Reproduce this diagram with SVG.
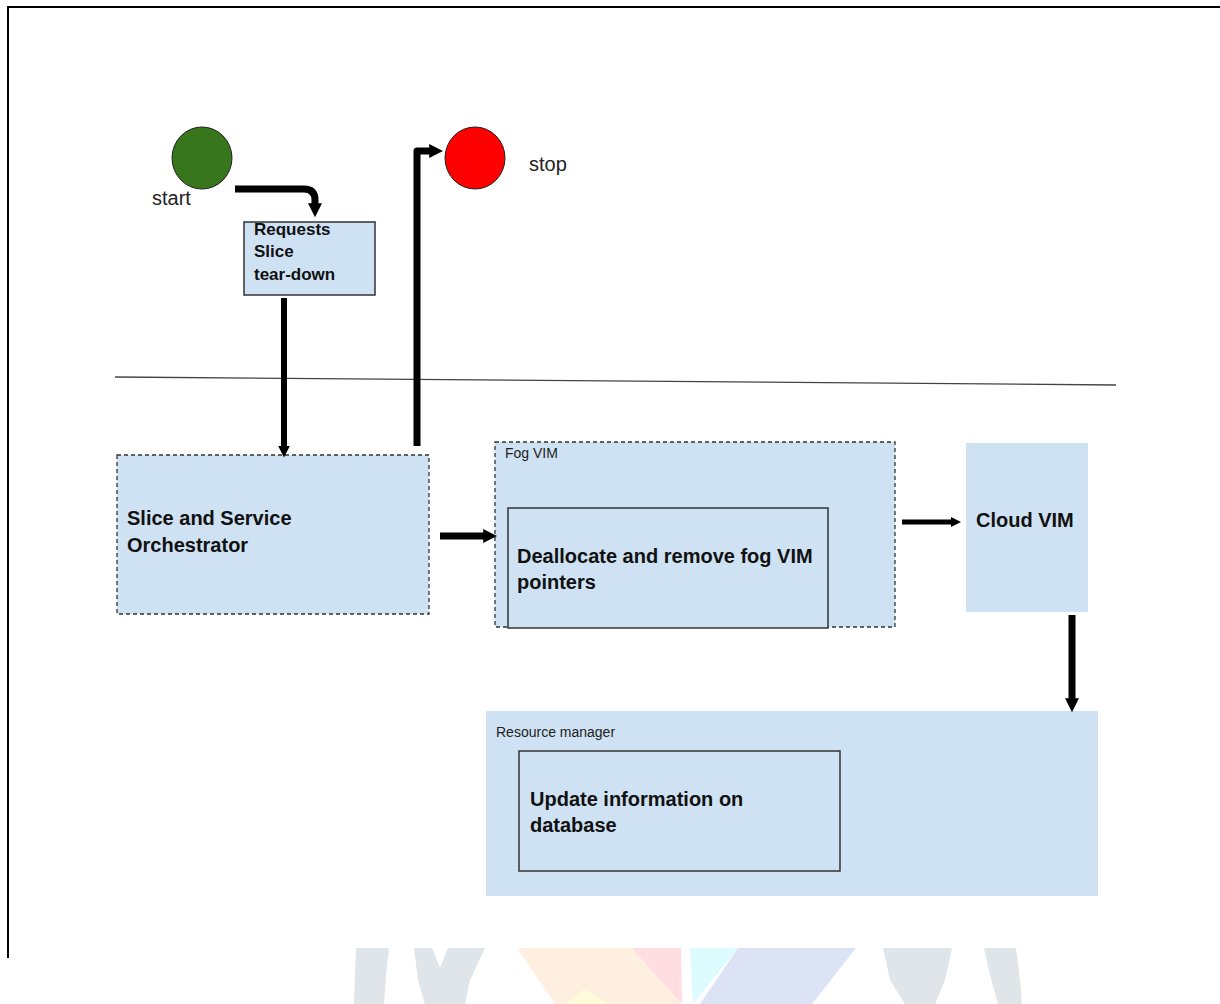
<svg xmlns="http://www.w3.org/2000/svg" width="1220" height="1004" viewBox="0 0 1220 1004">
<defs>
<style>
.box{fill:#cfe2f3}
.dash{stroke:#333;stroke-width:1.3;stroke-dasharray:4 3}
.solid{stroke:#333;stroke-width:1.5}
.big{font-family:"Liberation Sans",Arial,sans-serif;font-weight:bold;font-size:20px;fill:#111}
.mid{font-family:"Liberation Sans",Arial,sans-serif;font-weight:bold;font-size:17px;fill:#111}
.lbl{font-family:"Liberation Sans",Arial,sans-serif;font-size:14px;fill:#222}
.cap{font-family:"Liberation Sans",Arial,sans-serif;font-size:20px;fill:#222}
.conn{fill:none;stroke:#000;stroke-linejoin:round}
</style>
<marker id="ah" viewBox="0 0 10 10" refX="2" refY="5" markerWidth="2" markerHeight="2" orient="auto" markerUnits="strokeWidth">
<path d="M0,0 L10,5 L0,10 z" fill="#000"/>
</marker>
</defs>
<rect width="1220" height="1004" fill="#fff"/>
<g id="watermark" opacity="0.9">
<path d="M356,948 L389,948 L386,975 L384,1004 L354,1004 L355,975 Z" fill="#dce3e6"/>
<path d="M414,948 L432,948 L440,968 L448,948 L485,948 L470,980 L465,1004 L425,1004 L418,980 Z" fill="#dce3e6"/>
<path d="M517,948 L679,948 L680,1004 L555,1004 Z" fill="#ffeedd"/>
<path d="M632,948 L681,948 L682,1004 Z" fill="#ffdadd"/>
<path d="M565,1004 L584,989 L610,1004 Z" fill="#fffbd6"/>
<path d="M690,948 L738,948 L693,1004 Z" fill="#dafcff"/>
<path d="M738,948 L856,948 L812,1004 L700,1004 Z" fill="#d8e0f5"/>
<path d="M883,948 L952,948 L945,980 L935,1004 L905,1004 L890,980 Z" fill="#dce3e6"/>
<path d="M984,948 L1016,948 L1020,980 L1022,1004 L998,1004 L990,975 Z" fill="#dce3e6"/>
</g>
<g id="frame" fill="none" stroke="#000" stroke-width="2">
<path d="M8,958 V7 H1220"/>
</g>
<g id="divider">
<line x1="115" y1="377" x2="1116" y2="385" stroke="#444" stroke-width="1.3"/>
</g>
<g id="start">
<ellipse cx="202" cy="158" rx="30" ry="31" fill="#38761d" stroke="#222" stroke-width="1"/>
<text class="cap" x="152" y="205">start</text>
</g>
<g id="stop">
<ellipse cx="475" cy="158" rx="30" ry="31" fill="#ff0000" stroke="#222" stroke-width="1"/>
<text class="cap" x="529" y="171">stop</text>
</g>
<g id="requests">
<rect class="box solid" x="244" y="222" width="131" height="73"/>
<text class="mid" x="254" y="235">Requests</text>
<text class="mid" x="254" y="257">Slice</text>
<text class="mid" x="254" y="280">tear-down</text>
</g>
<g id="orchestrator">
<rect class="box dash" x="117" y="455" width="312" height="159"/>
<text class="big" x="127" y="525">Slice and Service</text>
<text class="big" x="127" y="552">Orchestrator</text>
</g>
<g id="fogvim">
<rect class="box dash" x="495" y="442" width="400" height="185"/>
<text class="lbl" x="505" y="458">Fog VIM</text>
</g>
<g id="deallocate">
<rect class="box solid" x="508" y="508" width="320" height="120"/>
<text class="big" x="517" y="563">Deallocate and remove fog VIM</text>
<text class="big" x="517" y="589">pointers</text>
</g>
<g id="cloudvim">
<rect class="box" x="966" y="443" width="122" height="169"/>
<text class="big" x="976" y="527">Cloud VIM</text>
</g>
<g id="resourcemanager">
<rect class="box" x="486" y="711" width="612" height="185"/>
<text class="lbl" x="496" y="737">Resource manager</text>
</g>
<g id="update">
<rect class="box solid" x="519" y="751" width="321" height="120"/>
<text class="big" x="530" y="806">Update information on</text>
<text class="big" x="530" y="832">database</text>
</g>
<g id="connectors">
<path class="conn" d="M235,189 H304 Q315,189 315,200 V206" stroke-width="7" marker-end="url(#ah)"/>
<path class="conn" d="M284,298 V448" stroke-width="6" marker-end="url(#ah)"/>
<path class="conn" d="M417,446 V151 H432" stroke-width="7" marker-end="url(#ah)"/>
<path class="conn" d="M440,536 H486" stroke-width="7" marker-end="url(#ah)"/>
<path class="conn" d="M902,522 H953" stroke-width="5" marker-end="url(#ah)"/>
<path class="conn" d="M1072,615 V701" stroke-width="7" marker-end="url(#ah)"/>
</g>
</svg>
